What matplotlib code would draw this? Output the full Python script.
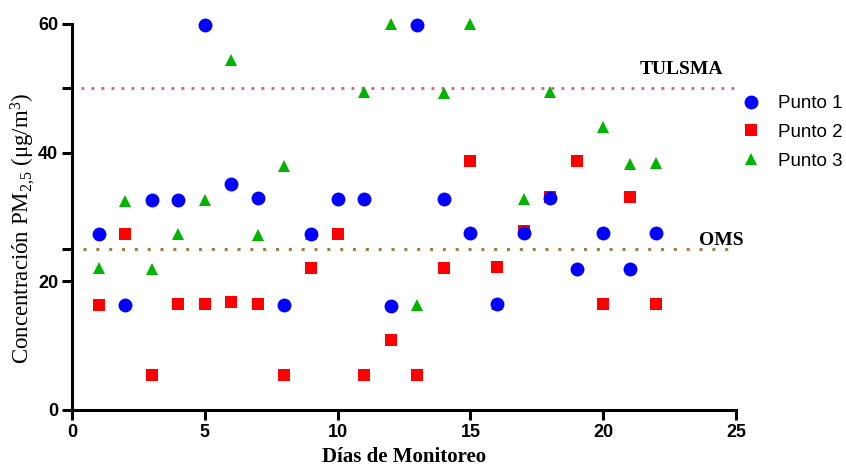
import numpy as np
import matplotlib
matplotlib.use("Agg")
import matplotlib.pyplot as plt

days = list(range(1, 23))
punto1 = [27.3, 16.3, 32.6, 32.6, 59.8, 35.1, 33.0, 16.3, 27.4, 32.8, 32.8, 16.2,
          59.8, 32.8, 27.5, 16.5, 27.5, 33.0, 21.9, 27.5, 21.9, 27.5]
punto2 = [16.3, 27.4, 5.4, 16.5, 16.5, 16.8, 16.5, 5.4, 22.1, 27.4, 5.4, 10.9,
          5.4, 22.1, 38.7, 22.2, 27.8, 33.1, 38.7, 16.5, 33.1, 16.5]
punto3 = [22.1, 32.5, 21.9, 27.4, 32.6, 54.4, 27.2, 37.9, 27.4, 27.4, 49.4, 60.0,
          16.3, 49.3, 60.0, 16.5, 32.8, 49.4, np.nan, 44.0, 38.2, 38.4]
series_names = ["Punto 1", "Punto 2", "Punto 3"]
tulsma = 50
oms = 25
xticks = [0, 5, 10, 15, 20, 25]
yticks = [0, 20, 25, 40, 50, 60]
yticklabels = ["0", "20", "", "40", "", "60"]

plt.rcParams["mathtext.fontset"] = "custom"
plt.rcParams["mathtext.rm"] = "Liberation Serif"
plt.rcParams["mathtext.it"] = "Liberation Serif:italic"

W, H = 846, 466
fig = plt.figure(figsize=(W / 100, H / 100), dpi=100)
ax = fig.add_axes([72 / W, 1 - 410 / H, (736 - 72) / W, (410 - 24) / H])

ax.plot(days, punto3, linestyle="none", marker="^", markersize=8.8, color="#00b400",
        markeredgewidth=0, label=series_names[2], clip_on=False, zorder=3)
ax.plot(days, punto2, linestyle="none", marker="s", markersize=8.2, color="#ff0000",
        markeredgewidth=0, label=series_names[1], clip_on=False, zorder=4)
ax.plot(days, punto1, linestyle="none", marker="o", markersize=10, color="#0000ff",
        markeredgewidth=0, label=series_names[0], clip_on=False, zorder=5)

ax.hlines(tulsma, 0.35, 24.95, colors="#e8508a", linestyles=(0, (1, 2.6)), linewidth=2.0, zorder=2)
ax.hlines(oms, 0.4, 24.9, colors="#a67c45", linestyles=(0, (1, 3.2)), linewidth=2.2, zorder=2)

ax.text(22.95, 53.0, "TULSMA", family="Liberation Serif", fontweight="bold", fontsize=14,
        ha="center", va="center")
ax.text(24.45, 26.4, "OMS", family="Liberation Serif", fontweight="bold", fontsize=14,
        ha="center", va="center")

ax.set_xlim(0, 25)
ax.set_ylim(0, 60)
ax.set_xticks(xticks)
ax.set_yticks(yticks)
ax.set_yticklabels(yticklabels)
for lab in ax.get_xticklabels() + ax.get_yticklabels():
    lab.set_family("Liberation Sans")
    lab.set_fontweight("bold")
    lab.set_fontsize(13)
ax.tick_params(direction="out", length=7, width=2.2, pad=3)

for s in ["top", "right"]:
    ax.spines[s].set_visible(False)
for s in ["left", "bottom"]:
    ax.spines[s].set_linewidth(2.2)

ax.set_xlabel("Días de Monitoreo", family="Liberation Serif", fontweight="bold", fontsize=15)
ax.xaxis.set_label_coords(0.5, -0.095)
ax.set_ylabel("Concentración PM$_{2{,}5}$ (μg/m$^{3}$)", family="Liberation Serif", fontsize=16.5)
ax.yaxis.set_label_coords(-0.052, 0.47)

h, l = ax.get_legend_handles_labels()
order = [2, 1, 0]
leg = fig.legend([h[i] for i in order], [l[i] for i in order], loc="upper left",
                 bbox_to_anchor=(742 / W, 1 - 95 / H), frameon=False,
                 prop={"family": "Liberation Sans", "size": 13.5},
                 handlelength=1.0, handletextpad=0.9, labelspacing=0.62, borderpad=0,
                 borderaxespad=0)

fig.savefig("out.png", dpi=100)
